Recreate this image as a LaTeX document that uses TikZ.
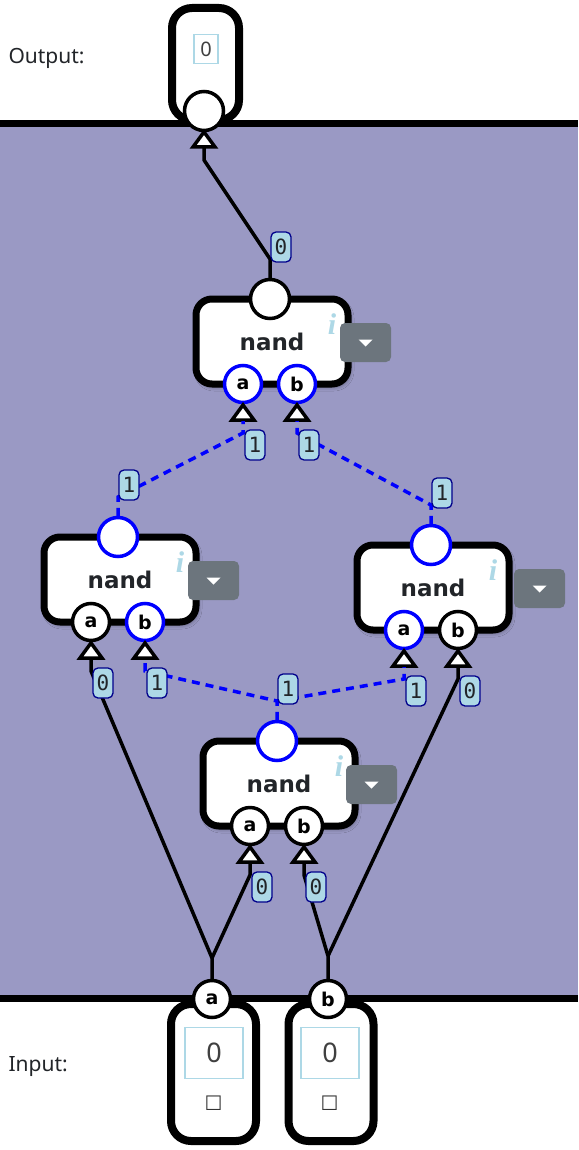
\documentclass[tikz,border=0pt]{standalone}
\usepackage{fontspec}
\setmainfont{Noto Sans}
\newfontfamily\valfont{DejaVu Sans Mono}
\newfontfamily\symfont{DejaVu Sans}
\newfontfamily\infofont{Liberation Serif}
\usetikzlibrary{calc,shadows.blur}
\definecolor{cbg}{RGB}{154,153,196}
\definecolor{cval}{RGB}{173,216,230}
\definecolor{cvalrim}{RGB}{0,0,139}
\definecolor{cdrop}{RGB}{108,117,125}
\definecolor{ctxt}{RGB}{34,37,41}
\tikzset{
  gbar/.style={black, line width=7pt},
  gbox/.style={draw=black, fill=white, line width=7pt, rounded corners=16pt,
               minimum width=152pt, minimum height=85pt, inner sep=0pt,
               text=ctxt, font=\symfont\bfseries\fontsize{23}{26}\selectfont,
               blur shadow={shadow xshift=2pt, shadow yshift=-3pt,
                            shadow blur radius=4pt, shadow opacity=40}},
  gio/.style={draw=black, fill=white, line width=8pt, rounded corners=20pt,
              inner sep=0pt},
  gport/.style={circle, draw=black, fill=white, line width=3.5pt,
                minimum size=37pt, inner sep=0pt,
                font=\symfont\bfseries\fontsize{19}{20}\selectfont},
  gtip/.style={draw=black, fill=white, line width=3.5pt, line join=miter},
  gwire/.style={black, line width=3.5pt, line join=round},
  gsig/.style={blue, line width=3.5pt, dash pattern=on 8pt off 6pt},
  gval/.style={draw=cvalrim, fill=cval, line width=1.3pt, rounded corners=5pt,
               minimum width=20pt, minimum height=30pt, inner sep=0pt,
               text=ctxt, font=\valfont\fontsize{21}{22}\selectfont},
  gfield/.style={draw=cval, line width=1.5pt, inner sep=0pt, text=black!75,
                 font=\fontsize{27}{28}\selectfont},
  gdrop/.style={fill=cdrop, rounded corners=5pt, minimum width=51pt,
                minimum height=39pt, inner sep=0pt},
  ginfo/.style={text=cval, font=\infofont\bfseries\itshape\fontsize{30}{30}\selectfont},
  glbl/.style={anchor=west, text=ctxt, font=\fontsize{21}{24}\selectfont},
  gchk/.style={text=black!80, font=\symfont\fontsize{20}{20}\selectfont},
}
\begin{document}
\begin{tikzpicture}[x=1pt,y=-1pt]
  \useasboundingbox (0,0) rectangle (578,1150);

  % fundo
  \fill[white] (0,0) rectangle (578,1150);
  \fill[cbg] (0,124) rectangle (578,998);

  % caixas de entrada e saida
  \node[gio, minimum width=67pt, minimum height=112pt] (outbox) at (205.5,64) {};
  \node[gfield, minimum width=24pt, minimum height=29pt,
        font=\fontsize{20}{20}\selectfont] (outval) at (206,49) {0};
  \node[gio, minimum width=85pt, minimum height=137pt] (inbox-a) at (213.5,1072.5) {};
  \node[gio, minimum width=85pt, minimum height=137pt] (inbox-b) at (331,1072.5) {};
  \node[gfield, minimum width=58pt, minimum height=51pt] (inval-a) at (214,1053) {0};
  \node[gfield, minimum width=58pt, minimum height=51pt] (inval-b) at (330,1053) {0};
  \node[gchk] (chk-a) at (213.5,1103) {☐};
  \node[gchk] (chk-b) at (329.5,1103) {☐};

  % barras
  \draw[gbar] (0,124) -- (578,124);
  \draw[gbar] (0,998) -- (578,998);

  \node[glbl] (outlbl) at (5,58) {Output:};
  \node[glbl] (inlbl) at (5,1067) {Input:};

  % pinos
  \node[gport, minimum size=39pt] (out-x) at (204,111) {};
  \node[gport] (in-a) at (212,999) {a};
  \node[gport] (in-b) at (328,999) {b};

  % portas nand
  \foreach \n/\c/\t/\co/\ca/\cb/\dd in {n1/270/299/black/blue/blue/70,
                                        n2/118/537/blue/black/blue/70,
                                        n3/431/545/blue/blue/black/83,
                                        n4/277/741/blue/black/black/69}{
    \node[gbox] (\n) at (\c+2,\t+42.5) {nand};
    \node[ginfo] (\n-i) at (\c+62,\t+25) {i};
    \node[gdrop] (\n-dd) at (\c+\dd+25.5,\t+43.5) {};
    \fill[white] ($(\n-dd)+(-7,-3)$) -- ++(14,0) -- ++(-7,7) -- cycle;
    \node[gport, draw=\co, minimum size=39pt] (\n-out) at (\c,\t) {};
    \node[gport, draw=\ca] (\n-a) at (\c-27,\t+85) {a};
    \node[gport, draw=\cb] (\n-b) at (\c+27,\t+85) {b};
  }

  % pontas das entradas
  \foreach \p in {out-x,n1-a,n1-b,n2-a,n2-b,n3-a,n3-b,n4-a,n4-b}
    \draw[gtip] ($(\p)+(0,21)$) -- ($(\p)+(11,36)$) -- ($(\p)+(-11,36)$) -- cycle;

  % fios
  \draw[gwire] (n1-out.north) -- ($(n1-out)+(0,-40)$)
    -- ($(out-x)+(0,49)$) -- ($(out-x)+(0,37)$);
  \draw[gsig] (n2-out.north) -- ($(n2-out)+(0,-40)$)
    -- ($(n1-a)+(0,49)$) -- ($(n1-a)+(0,37)$);
  \draw[gsig] (n3-out.north) -- ($(n3-out)+(0,-40)$)
    -- ($(n1-b)+(0,49)$) -- ($(n1-b)+(0,37)$);
  \draw[gsig] (n4-out.north) -- ($(n4-out)+(0,-40)$) coordinate (n4-j)
    -- ($(n2-b)+(0,49)$) -- ($(n2-b)+(0,37)$);
  \draw[gsig] (n4-j) -- ($(n3-a)+(0,49)$) -- ($(n3-a)+(0,37)$);
  \draw[gwire] (in-a.north) -- ($(in-a)+(0,-41)$) coordinate (in-a-j)
    -- ($(n4-a)+(0,49)$) -- ($(n4-a)+(0,37)$);
  \draw[gwire] (in-a-j) -- ($(n2-a)+(0,49)$) -- ($(n2-a)+(0,37)$);
  \draw[gwire] (in-b.north) -- ($(in-b)+(0,-43)$) coordinate (in-b-j)
    -- ($(n4-b)+(0,49)$) -- ($(n4-b)+(0,37)$);
  \draw[gwire] (in-b-j) -- ($(n3-b)+(0,49)$) -- ($(n3-b)+(0,37)$);

  % valores
  \node[gval] (v1) at ($(n1-out)+(11,-52)$) {0};
  \node[gval] (v2) at ($(n2-out)+(11,-52)$) {1};
  \node[gval] (v3) at ($(n3-out)+(11,-52)$) {1};
  \node[gval] (v4) at ($(n4-out)+(11,-52)$) {1};
  \node[gval] (v5) at ($(n1-a)+(12,61)$) {1};
  \node[gval] (v6) at ($(n1-b)+(12,61)$) {1};
  \node[gval] (v7) at ($(n2-a)+(12,61)$) {0};
  \node[gval] (v8) at ($(n2-b)+(12,61)$) {1};
  \node[gval] (v9) at ($(n3-a)+(12,61)$) {1};
  \node[gval] (v10) at ($(n3-b)+(12,61)$) {0};
  \node[gval] (v11) at ($(n4-a)+(12,61)$) {0};
  \node[gval] (v12) at ($(n4-b)+(12,61)$) {0};

\end{tikzpicture}
\end{document}
